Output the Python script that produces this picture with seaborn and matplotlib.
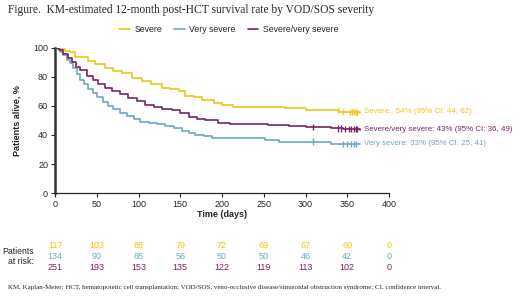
import numpy as np
import pandas as pd
import matplotlib
matplotlib.use('Agg')
import matplotlib.pyplot as plt
import matplotlib.transforms as mtransforms
import seaborn as sns

# KM step points (day, % alive)
severe_t = [0, 5, 12, 18, 24, 39, 48, 60, 70, 80, 92, 104, 115, 128, 138, 148, 156, 166, 176, 190, 200, 213, 262, 276, 300, 320, 340, 365]
severe_s = [100, 99.5, 98, 97, 94, 91, 89, 86, 84, 82.5, 79.5, 77, 75, 72.7, 72, 70, 67, 66.5, 64, 62, 61, 59.5, 59.5, 58.5, 57.5, 57, 56, 55.5]

vsev_t = [0, 3, 6, 10, 14, 18, 22, 26, 30, 35, 40, 45, 50, 57, 63, 70, 78, 86, 95, 102, 112, 122, 132, 142, 152, 160, 168, 178, 188, 252, 268, 330, 365]
vsev_s = [100, 99, 97, 95, 92, 89.5, 86, 82, 78, 75, 72, 69, 66, 63, 60, 58, 55, 53, 51, 49, 48.5, 47.5, 46, 44.5, 43, 41.5, 40, 39, 38, 36.8, 35.5, 34, 33.5]

comb_t = [0, 5, 10, 15, 20, 25, 30, 38, 45, 52, 60, 68, 78, 88, 98, 108, 118, 128, 140, 150, 160, 170, 180, 195, 210, 255, 280, 300, 330, 345, 365]
comb_s = [100, 98.5, 96, 93, 90, 87, 84.5, 81, 78, 75, 72.5, 70.5, 68, 65.5, 63.5, 61, 59.5, 58, 57, 55, 52.5, 51, 50, 48.5, 47.5, 47, 46, 45.5, 44.5, 44, 43.5]

# censored observations (days)
severe_cens = [339, 345, 353, 356, 358, 360, 362]
vsev_cens = [309, 345, 350, 355, 358, 361]
comb_cens = [309, 339, 343, 347, 352, 355, 358, 360, 362]

groups = ['Severe', 'Very severe', 'Severe/very severe']
end_labels = ['Severe:  54% (95% CI: 44, 62)',
              'Very severe: 33% (95% CI: 25, 41)',
              'Severe/very severe: 43% (95% CI: 36, 49)']

risk_days = [0, 50, 100, 150, 200, 250, 300, 350, 400]
risk_severe = [117, 103, 88, 79, 72, 69, 67, 60, 0]
risk_vsev = [134, 90, 65, 56, 50, 50, 46, 42, 0]
risk_comb = [251, 193, 153, 135, 122, 119, 113, 102, 0]

colors = {'Severe': '#F2C419', 'Very severe': '#6EA7BF', 'Severe/very severe': '#7A2364'}

sns.set_style('ticks')
plt.rcParams['font.family'] = ['Liberation Sans', 'DejaVu Sans']
serif = ['Liberation Serif', 'DejaVu Serif']

curves = pd.concat([
    pd.DataFrame({'day': severe_t, 'surv': severe_s, 'group': 'Severe'}),
    pd.DataFrame({'day': vsev_t, 'surv': vsev_s, 'group': 'Very severe'}),
    pd.DataFrame({'day': comb_t, 'surv': comb_s, 'group': 'Severe/very severe'}),
])

def cens_frame(t_list, s_list, cens, name):
    idx = np.searchsorted(t_list, cens, side='right') - 1
    return pd.DataFrame({'day': cens, 'surv': np.array(s_list)[idx], 'group': name})

cens = pd.concat([
    cens_frame(severe_t, severe_s, severe_cens, 'Severe'),
    cens_frame(vsev_t, vsev_s, vsev_cens, 'Very severe'),
    cens_frame(comb_t, comb_s, comb_cens, 'Severe/very severe'),
])

fig = plt.figure(figsize=(5.2, 2.98), dpi=100)
ax = fig.add_axes([0.1058, 0.3523, 0.6423, 0.4867])

sns.lineplot(data=curves, x='day', y='surv', hue='group', hue_order=groups,
             palette=colors, estimator=None, drawstyle='steps-post',
             linewidth=1.2, ax=ax)
sns.scatterplot(data=cens, x='day', y='surv', hue='group', hue_order=groups,
                palette=colors, marker='|', s=20, linewidth=1.0, legend=False, ax=ax)

ax.set_xlim(0, 400)
ax.set_ylim(0, 100)
ax.set_xticks(range(0, 401, 50))
ax.set_yticks(range(0, 101, 20))
ax.tick_params(labelsize=6.5, length=3, width=0.8, pad=2)
for s in ['top', 'right']:
    ax.spines[s].set_visible(False)
ax.spines['left'].set_linewidth(1.8)
ax.spines['left'].set_color('#333333')
ax.spines['bottom'].set_linewidth(0.9)
ax.set_xlabel('Time (days)', fontsize=6.5, fontweight='bold', labelpad=1)
ax.set_ylabel('Patients alive, %', fontsize=6.5, fontweight='bold')
ax.yaxis.set_label_coords(-0.1, 0.5)

# end-of-curve annotations
end_y = {'Severe': 56, 'Very severe': 34, 'Severe/very severe': 43.5}
for g, lab in zip(groups, end_labels):
    ax.text(370, end_y[g], lab, color=colors[g], fontsize=5.7, va='center', ha='left', clip_on=False)

sns.move_legend(ax, 'center', bbox_to_anchor=(0.44, 0.9), bbox_transform=fig.transFigure,
                ncol=3, frameon=False, title=None, fontsize=6.3, handlelength=1.2,
                columnspacing=1.4, handletextpad=0.5)

# numbers at risk
trans = mtransforms.blended_transform_factory(ax.transData, ax.transAxes)
for vals, g, y in zip([risk_severe, risk_vsev, risk_comb], groups, [-0.359, -0.441, -0.517]):
    for d, v in zip(risk_days, vals):
        ax.text(d, y, str(v), color=colors[g], fontsize=6.5, ha='center', va='center', transform=trans)
fig.text(0.066, 0.138, 'Patients\nat risk:', fontsize=6.3, ha='right', va='center', linespacing=1.15)

fig.text(0.015, 0.967, 'Figure.  KM-estimated 12-month post-HCT survival rate by VOD/SOS severity',
         fontsize=8.3, family=serif, ha='left', va='center')
fig.text(0.015, 0.037, 'KM, Kaplan-Meier; HCT, hematopoietic cell transplantation; VOD/SOS, veno-occlusive '
         'disease/sinusoidal obstruction syndrome; CI, confidence interval.',
         fontsize=5.0, family=serif, ha='left', va='center')

fig.savefig('out.png', dpi=100)
